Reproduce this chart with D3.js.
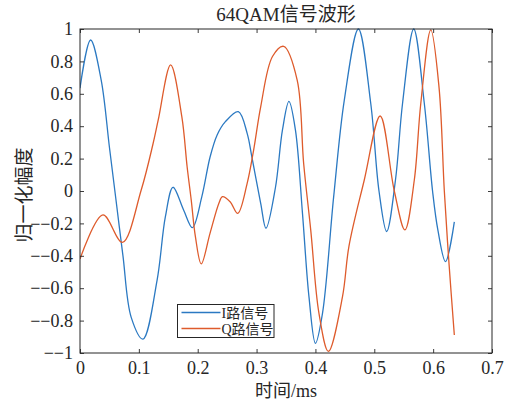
<!DOCTYPE html>
<html>
<head>
<meta charset="utf-8">
<script src="https://cdn.jsdelivr.net/npm/d3@7"></script>
<style>
  html, body { margin: 0; padding: 0; background: #fff; }
  svg { display: block; }
  text { font-family: "Liberation Serif", "Noto Sans CJK SC", serif; fill: #262626; }
</style>
</head>
<body>
<svg id="chart" width="512" height="403"></svg>
<script>
// I channel: time (ms) and normalized amplitude
const timeI = [0.000, 0.018, 0.036, 0.050, 0.062, 0.073, 0.087, 0.107, 0.131, 0.145, 0.158, 0.176,
  0.191, 0.207, 0.221, 0.233, 0.247, 0.269, 0.284, 0.292, 0.307, 0.316, 0.332, 0.344, 0.355, 0.366,
  0.378, 0.389, 0.400, 0.412, 0.431, 0.449, 0.473, 0.494, 0.508, 0.521, 0.536, 0.548, 0.567, 0.585,
  0.599, 0.608, 0.621, 0.636];
const valuesI = [0.635, 0.932, 0.685, 0.27, -0.08, -0.40, -0.78, -0.914, -0.55, -0.16, 0.023, -0.117,
  -0.226, -0.035, 0.21, 0.346, 0.428, 0.49, 0.356, 0.21, -0.076, -0.23, 0.02, 0.377, 0.553, 0.377,
  -0.138, -0.652, -0.94, -0.755, -0.035, 0.56, 1.0, 0.54, 0.0, -0.25, 0.068, 0.54, 1.0, 0.54,
  0.0, -0.24, -0.436, -0.19];

// Q channel: time (ms) and normalized amplitude
const timeQ = [0.000, 0.039, 0.072, 0.104, 0.124, 0.133, 0.154, 0.173, 0.182, 0.189, 0.196, 0.206,
  0.221, 0.236, 0.242, 0.255, 0.268, 0.284, 0.295, 0.307, 0.327, 0.346, 0.369, 0.380, 0.392, 0.406,
  0.422, 0.446, 0.457, 0.483, 0.510, 0.534, 0.552, 0.568, 0.579, 0.596, 0.610, 0.619, 0.627, 0.636];
const valuesQ = [-0.42, -0.148, -0.317, 0.006, 0.29, 0.44, 0.778, 0.459, 0.15, -0.056, -0.28, -0.45,
  -0.26, -0.076, -0.035, -0.066, -0.138, 0.047, 0.253, 0.52, 0.83, 0.893, 0.685, 0.17, -0.24, -0.755,
  -0.99, -0.652, -0.34, 0.068, 0.463, 0.0, -0.24, 0.068, 0.54, 0.994, 0.64, 0.0, -0.45, -0.889];

const xTicks = [0, 0.1, 0.2, 0.3, 0.4, 0.5, 0.6, 0.7];
const yTicks = [-1, -0.8, -0.6, -0.4, -0.2, 0, 0.2, 0.4, 0.6, 0.8, 1];

const seriesNames = ["I路信号", "Q路信号"];
const seriesColors = ["#2b79c2", "#de5b2c"];

const svg = d3.select("#chart");
const plot = { left: 80, right: 492, top: 29, bottom: 353 };

const x = d3.scaleLinear().domain([0, 0.7]).range([plot.left, plot.right]);
const y = d3.scaleLinear().domain([-1, 1]).range([plot.bottom, plot.top]);

const fmt = v => {
  const s = d3.format("")(+v.toFixed(1));
  return v < 0 ? "\u2212" + s.replace("-", "") : s;
};

// Curves
const line = d3.line()
  .x(d => x(d[0]))
  .y(d => y(d[1]))
  .curve(d3.curveCatmullRom.alpha(0.5));

const series = [
  d3.zip(timeI, valuesI),
  d3.zip(timeQ, valuesQ)
];

svg.append("clipPath").attr("id", "plotclip")
  .append("rect")
  .attr("x", plot.left).attr("y", plot.top - 2)
  .attr("width", plot.right - plot.left).attr("height", plot.bottom - plot.top + 4);

svg.append("g").attr("clip-path", "url(#plotclip)")
  .selectAll("path")
  .data(series)
  .join("path")
  .attr("d", line)
  .attr("fill", "none")
  .attr("stroke", (d, i) => seriesColors[i])
  .attr("stroke-width", 1.3);

// Axes with inward ticks on all four sides
const tickLen = 4;
const axisColor = "#262626";

const bottomAxis = d3.axisBottom(x).tickValues(xTicks).tickSizeInner(-tickLen).tickSizeOuter(0)
  .tickPadding(8).tickFormat(fmt);
const topAxis = d3.axisTop(x).tickValues(xTicks).tickSizeInner(-tickLen).tickSizeOuter(0).tickFormat("");
const leftAxis = d3.axisLeft(y).tickValues(yTicks).tickSizeInner(-tickLen).tickSizeOuter(0)
  .tickPadding(7).tickFormat(fmt);
const rightAxis = d3.axisRight(y).tickValues(yTicks).tickSizeInner(-tickLen).tickSizeOuter(0).tickFormat("");

function styleAxis(g) {
  g.select(".domain").remove();
  g.selectAll(".tick line").attr("stroke", axisColor).attr("stroke-width", 0.9);
  g.selectAll(".tick text").attr("fill", axisColor).style("font-size", "18px")
    .style("font-family", "'Liberation Serif', serif");
}

svg.append("g").attr("transform", `translate(0,${plot.bottom})`).call(bottomAxis).call(styleAxis);
svg.append("g").attr("transform", `translate(0,${plot.top})`).call(topAxis).call(styleAxis);
svg.append("g").attr("transform", `translate(${plot.left},0)`).call(leftAxis).call(styleAxis);
svg.append("g").attr("transform", `translate(${plot.right},0)`).call(rightAxis).call(styleAxis);

// Box
svg.append("rect")
  .attr("x", plot.left).attr("y", plot.top)
  .attr("width", plot.right - plot.left).attr("height", plot.bottom - plot.top)
  .attr("fill", "none").attr("stroke", axisColor).attr("stroke-width", 1);

// Title and axis labels
svg.append("text")
  .attr("x", (plot.left + plot.right) / 2).attr("y", 21)
  .attr("text-anchor", "middle")
  .style("font-size", "19px")
  .text("64QAM信号波形");

svg.append("text")
  .attr("x", (plot.left + plot.right) / 2).attr("y", 397)
  .attr("text-anchor", "middle")
  .style("font-size", "18px")
  .text("时间/ms");

svg.append("text")
  .attr("transform", `translate(31,${(plot.top + plot.bottom) / 2 + 4}) rotate(-90)`)
  .attr("text-anchor", "middle")
  .style("font-size", "19px")
  .text("归一化幅度");

// Legend
const legend = svg.append("g").attr("transform", "translate(177.5,304.5)");
legend.append("rect")
  .attr("width", 96.5).attr("height", 33)
  .attr("fill", "#fff").attr("stroke", axisColor).attr("stroke-width", 1);
const rows = legend.selectAll("g.row")
  .data(seriesNames)
  .join("g")
  .attr("class", "row")
  .attr("transform", (d, i) => `translate(0,${8 + i * 16})`);
rows.append("line")
  .attr("x1", 4).attr("x2", 43)
  .attr("stroke", (d, i) => seriesColors[i]).attr("stroke-width", 1.3);
rows.append("text")
  .attr("x", 44).attr("y", 5)
  .style("font-size", "14px")
  .text(d => d);
</script>
</body>
</html>
